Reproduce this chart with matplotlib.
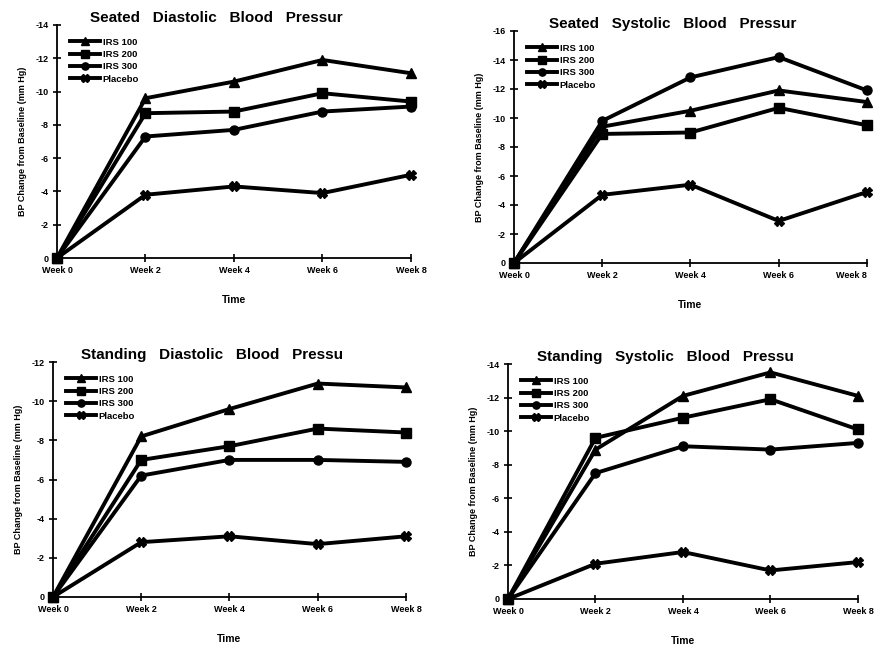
import matplotlib
matplotlib.use("Agg")
import matplotlib.pyplot as plt
from matplotlib.ticker import FuncFormatter

plt.rcParams['font.family'] = ['Liberation Sans', 'DejaVu Sans']
plt.rcParams['axes.unicode_minus'] = False

weeks = [0, 2, 4, 6, 8]
week_labels = ["Week 0", "Week 2", "Week 4", "Week 6", "Week 8"]
series_names = ["IRS 100", "IRS 200", "IRS 300", "Placebo"]

# Seated diastolic
sd_irs100 = [0, -9.6, -10.6, -11.9, -11.1]
sd_irs200 = [0, -8.7, -8.8, -9.9, -9.4]
sd_irs300 = [0, -7.3, -7.7, -8.8, -9.1]
sd_placebo = [0, -3.8, -4.3, -3.9, -5.0]

# Seated systolic
ss_irs100 = [0, -9.4, -10.5, -11.9, -11.1]
ss_irs200 = [0, -8.9, -9.0, -10.7, -9.5]
ss_irs300 = [0, -9.8, -12.8, -14.2, -11.9]
ss_placebo = [0, -4.7, -5.4, -2.9, -4.9]

# Standing diastolic
td_irs100 = [0, -8.2, -9.6, -10.9, -10.7]
td_irs200 = [0, -7.0, -7.7, -8.6, -8.4]
td_irs300 = [0, -6.2, -7.0, -7.0, -6.9]
td_placebo = [0, -2.8, -3.1, -2.7, -3.1]

# Standing systolic
ts_irs100 = [0, -8.9, -12.1, -13.5, -12.1]
ts_irs200 = [0, -9.6, -10.8, -11.9, -10.1]
ts_irs300 = [0, -7.5, -9.1, -8.9, -9.3]
ts_placebo = [0, -2.1, -2.8, -1.7, -2.2]

titles = ["Seated   Diastolic   Blood   Pressur",
          "Seated   Systolic   Blood   Pressur",
          "Standing   Diastolic   Blood   Pressu",
          "Standing   Systolic   Blood   Pressu"]
ymins = [-14, -16, -12, -14]

panels = [
    [sd_irs100, sd_irs200, sd_irs300, sd_placebo],
    [ss_irs100, ss_irs200, ss_irs300, ss_placebo],
    [td_irs100, td_irs200, td_irs300, td_placebo],
    [ts_irs100, ts_irs200, ts_irs300, ts_placebo],
]

W, H = 879, 650
# pixel boxes: left, right, top, bottom
boxes = [(57, 411, 25, 258), (514, 867, 31, 263), (53, 406, 362, 597), (508, 858, 364, 599)]
markers = ['^', 's', 'o', 'X']

fig = plt.figure(figsize=(W/100, H/100), dpi=100)
fmt = FuncFormatter(lambda v, p: "0" if abs(v) < 1e-9 else "-%d" % abs(round(v)))

for i, (data, box) in enumerate(zip(panels, boxes)):
    l, r, t, b = box
    ax = fig.add_axes([l/W, 1-b/H, (r-l)/W, (b-t)/H])
    for vals, m, name in zip(data, markers, series_names):
        ax.plot(weeks, vals, color='black', lw=2.8, marker=m, ms=6.5,
                mec='black', mfc='black', label=name, clip_on=False)
    ax.set_xlim(0, 8)
    ax.set_ylim(0, ymins[i])
    ax.set_yticks(list(range(0, ymins[i]-1, -2)))
    ax.yaxis.set_major_formatter(fmt)
    ax.set_xticks(weeks)
    ax.set_xticklabels(week_labels)
    for s in ['top', 'right']:
        ax.spines[s].set_visible(False)
    for s in ['left', 'bottom']:
        ax.spines[s].set_linewidth(1.3)
    ax.tick_params(direction='inout', length=6, width=1.2, labelsize=6.5, pad=3)
    for lab in ax.get_xticklabels() + ax.get_yticklabels():
        lab.set_fontweight('bold')
    if i == 1:
        ax.get_xticklabels()[-1].set_horizontalalignment('right')
    ax.set_xlabel("Time", fontsize=7.5, fontweight='bold', labelpad=14)
    ax.set_ylabel("BP Change from Baseline (mm Hg)", fontsize=6.5, fontweight='bold', labelpad=6)
    ax.set_title(titles[i], fontsize=11, fontweight='bold', pad=2, x=0.45)
    leg = ax.legend(loc='upper left', bbox_to_anchor=(0.02, 0.97), frameon=False,
                    fontsize=6.8, handlelength=3.2, handletextpad=0.3,
                    labelspacing=0.35, borderaxespad=0.2, markerscale=0.8)
    for txt in leg.get_texts():
        txt.set_fontweight('bold')

fig.savefig("out.png", dpi=100)
